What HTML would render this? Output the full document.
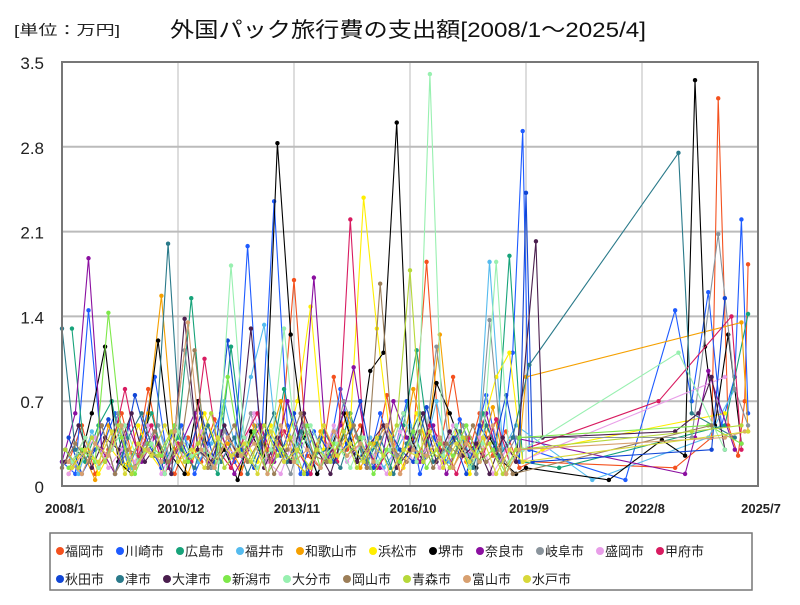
<!DOCTYPE html>
<html><head><meta charset="utf-8"><style>
body{margin:0;background:#fff;width:800px;height:600px;overflow:hidden;font-family:"Liberation Sans","Noto Sans CJK JP",sans-serif}
</style></head><body>
<svg id="chart" width="800" height="600" xmlns="http://www.w3.org/2000/svg">
<text x="14" y="35" font-size="14" fill="#222" textLength="106" lengthAdjust="spacingAndGlyphs" font-family="Liberation Sans, Noto Sans CJK JP, sans-serif">[単位：万円]</text>
<text x="170" y="37" font-size="21" fill="#111" textLength="476" lengthAdjust="spacingAndGlyphs" font-family="Liberation Sans, Noto Sans CJK JP, sans-serif">外国パック旅行費の支出額[2008/1～2025/4]</text>
<g id="grid"></g>
<g id="series"></g>
<rect x="62" y="62" width="696" height="424" fill="none" stroke="#777" stroke-width="2"/>
<g id="axes"></g>
<rect x="50" y="533" width="702" height="57" fill="#fff" stroke="#777" stroke-width="1.5"/>
<g id="legend"></g>
</svg>
<script>
const yTicks=[0,0.7,1.4,2.1,2.8,3.5];
const yTickLabels=["0","0.7","1.4","2.1","2.8","3.5"];
const xTickMonths=[0,35,70,105,140,175,210];
const xTickLabels=["2008/1","2010/12","2013/11","2016/10","2019/9","2022/8","2025/7"];
const cityNames=["福岡市","川崎市","広島市","福井市","和歌山市","浜松市","堺市","奈良市","岐阜市","盛岡市","甲府市","秋田市","津市","大津市","新潟市","大分市","岡山市","青森市","富山市","水戸市"];
const cityColors=["#f4511e","#1e5bff","#17a37a","#55bbee","#f5a000","#ffee00","#000000","#8b0fa0","#8a949c","#e89ee8","#d81b60","#1146d6","#2a7a8a","#4a1e4e","#7ee84a","#98f0b0","#9c7e58","#b6d83a","#d8a070","#d8d83a"];
const startMonth=[2,0,3,1,2,3,1,0,1,2,3,2,0,1,2,3,0,1,2,3];
const denseValues=[
[0.2,0.5,0.1,0.3,0.6,0.15,0.8,0.25,0.1,0.4,0.2,0.55,0.3,0.1,0.45,0.2,0.35,1.7,0.25,0.15,0.9,0.3,0.5,0.2,0.75,0.1,0.4,1.85,0.3,0.9,0.2,0.6,0.25,0.45,0.15],
[0.2,0.1,1.45,0.3,0.6,0.15,0.4,0.9,0.2,0.5,0.1,0.35,0.6,0.2,1.98,0.3,2.35,0.5,0.1,0.45,0.2,0.8,0.3,0.15,0.6,0.25,0.7,0.1,0.4,0.2,0.55,0.3,0.75,0.2,1.1],
[1.3,0.2,0.5,0.7,0.15,0.35,0.6,0.2,0.4,1.55,0.3,0.1,1.15,0.25,0.5,0.2,0.8,0.35,0.1,0.45,0.25,0.6,0.2,0.35,0.15,0.5,1.12,0.3,0.2,0.4,0.15,0.6,0.3,1.9,0.2],
[0.3,0.1,0.45,0.2,0.6,0.15,0.3,0.5,0.1,0.4,0.2,0.35,0.7,0.25,0.9,1.33,0.3,0.2,0.5,0.1,0.35,0.6,0.2,0.4,0.15,0.3,0.5,0.25,0.7,0.2,0.4,0.1,1.85,0.3,0.5],
[0.1,0.3,0.05,0.5,0.2,0.15,0.6,1.57,0.3,0.1,0.4,0.2,0.35,0.15,0.5,0.3,0.7,0.2,0.1,0.45,0.25,0.6,0.15,0.35,0.5,0.2,0.8,0.3,1.25,0.15,0.4,0.2,0.65,0.1,0.3],
[0.2,0.4,0.1,0.3,0.15,0.5,0.25,0.1,0.35,0.2,0.6,0.3,0.15,0.4,0.2,0.5,0.25,0.7,1.48,0.3,0.2,0.5,2.38,1.3,0.4,0.15,0.6,0.3,0.2,0.45,0.1,0.5,0.9,1.1,0.2],
[0.3,0.15,0.6,1.15,0.2,0.1,0.35,1.2,0.25,0.1,0.7,0.15,0.3,0.05,0.45,0.2,2.83,1.25,0.4,0.1,0.3,0.6,0.2,0.95,1.1,3.0,0.4,0.2,0.85,0.6,0.3,0.15,0.4,0.2,0.1],
[0.2,0.6,1.88,0.3,0.1,0.5,0.2,0.4,0.15,0.35,0.6,0.2,0.45,0.1,0.3,0.5,0.2,0.7,0.35,1.72,0.2,0.5,0.98,0.3,0.15,0.7,0.4,0.2,0.5,0.1,0.35,0.25,0.6,0.2,0.4],
[0.3,0.15,0.4,0.2,0.6,0.1,0.35,0.5,0.2,1.12,0.3,0.15,0.45,0.25,0.6,0.2,0.35,0.1,0.5,0.3,0.2,0.7,0.4,0.15,0.5,0.25,0.35,0.2,1.15,0.3,0.5,0.1,1.37,0.2,0.4],
[0.1,0.25,0.4,0.15,0.3,0.2,0.5,0.1,0.35,0.2,0.45,0.15,0.3,0.25,0.6,0.2,0.1,0.4,0.3,0.15,0.5,0.2,0.35,0.25,0.1,0.45,0.2,0.3,0.15,0.5,0.25,0.4,0.1,0.3,0.2],
[0.2,0.4,0.15,0.3,0.8,0.25,0.5,0.1,0.35,0.2,1.05,0.3,0.15,0.4,0.6,0.2,0.45,0.3,0.1,0.5,0.2,2.2,0.4,0.15,0.3,0.6,0.2,0.5,0.35,0.1,0.4,0.25,0.55,0.2,0.3],
[0.4,0.1,0.3,0.55,0.2,0.75,0.35,0.15,0.5,0.25,0.6,0.2,1.2,0.3,0.15,0.45,0.25,0.6,0.1,0.4,0.2,0.35,0.7,0.15,0.5,0.3,0.2,0.65,0.25,0.4,0.1,0.5,0.3,0.75,0.2],
[1.3,0.3,0.2,0.5,0.1,0.4,0.6,0.25,2.0,0.3,0.15,0.5,0.2,0.4,0.1,0.35,0.6,0.2,0.45,0.25,0.3,0.15,0.5,0.2,0.4,0.1,0.35,0.6,0.2,0.3,0.45,0.15,0.5,0.25,0.4],
[0.2,0.5,0.15,0.4,0.3,0.6,0.2,0.35,0.1,1.38,0.3,0.2,0.5,0.25,1.3,0.15,0.4,0.2,0.6,0.3,0.1,0.45,0.2,0.35,0.5,0.15,0.3,0.6,0.2,0.45,0.25,0.35,0.1,0.4,0.2],
[0.15,0.3,0.2,1.43,0.4,0.1,0.35,0.25,0.5,0.2,0.3,0.15,0.9,0.25,0.45,0.1,0.3,0.2,0.5,0.15,0.35,0.25,0.4,0.1,0.3,0.2,0.45,0.15,0.35,0.25,0.5,0.2,0.3,0.1,0.4],
[0.2,0.4,0.15,0.3,0.5,0.2,0.35,0.1,0.45,0.25,0.3,0.2,1.82,0.4,0.15,0.3,1.3,0.2,0.5,0.25,0.35,0.15,0.4,0.2,0.3,0.6,0.2,3.4,0.25,0.5,0.15,0.35,1.85,0.2,0.3],
[0.15,0.35,0.2,0.5,0.1,0.3,0.25,0.45,0.2,0.35,1.12,0.15,0.3,0.5,0.2,0.4,0.1,0.3,0.6,0.25,0.2,0.35,0.5,0.15,1.67,0.3,0.2,0.45,0.15,0.35,0.25,0.5,0.2,0.3,0.1],
[0.3,0.15,0.4,0.2,0.5,0.1,0.3,0.25,0.45,0.2,0.35,0.6,0.15,0.3,0.2,0.5,0.25,0.4,0.1,0.3,0.2,0.45,0.15,0.35,0.25,0.5,1.78,0.2,0.3,0.15,0.4,0.25,0.35,0.1,0.3],
[0.2,0.1,0.35,0.25,0.5,0.15,0.3,0.2,0.45,1.35,0.3,0.15,0.4,0.25,0.35,0.1,0.5,0.2,0.3,0.15,0.45,0.25,0.35,0.2,0.5,0.1,0.3,0.25,0.4,0.15,0.35,0.2,0.5,0.1,0.3],
[0.15,0.3,0.2,0.45,0.1,0.35,0.25,0.5,0.2,0.3,0.15,0.4,0.25,0.35,0.1,0.45,0.2,0.3,0.15,0.5,0.25,0.35,0.2,0.4,0.1,0.3,0.25,0.45,0.15,0.35,0.2,0.4,0.1,0.3,0.2]
];
const lateMonths=[
[142,185,196,198,201,204,206,207],
[139,141,170,185,190,195,199,203,205,207],
[150,200,207],
[160,195,203],
[140,205,207],
[145,200],
[140,165,181,188,191,194,197,201,205],
[188,191,195,203],
[190,198,203,207],
[200],
[180,202,205],
[140,142,196,200],
[141,186,190,203],
[143,145,185,192,196,200],
[195,205],
[186,200],
[196],
[190,205],
[200,206],
[207]
];
const lateValues=[
[0.2,0.15,0.4,3.2,0.5,0.25,0.7,1.83],
[2.93,0.3,0.05,1.45,0.7,1.6,0.5,0.9,2.2,0.6],
[0.15,0.5,1.42],
[0.05,0.4,0.8],
[0.9,1.35,0.45],
[0.3,0.6],
[0.15,0.05,0.38,0.25,3.35,1.15,0.5,1.25,0.35],
[0.1,0.4,0.95,0.3],
[0.4,2.08,0.8,0.5],
[0.9],
[0.7,1.4,0.3],
[2.42,0.2,0.3,1.55],
[1.0,2.75,0.6,0.4],
[2.02,0.4,0.45,0.6,0.9,0.3],
[0.5,0.35],
[1.1,0.3],
[0.5],
[0.45,0.5],
[0.4,0.45],
[0.45]
];
const NS="http://www.w3.org/2000/svg";
const X0=62,X1=758,Y0=486,Y1=62,M=210,VMAX=3.5;
function xs(m){return X0+(X1-X0)*m/M;}
function ys(v){return Y0-(Y0-Y1)*v/VMAX;}
function mk(tag,attrs,parent){const e=document.createElementNS(NS,tag);for(const k in attrs)e.setAttribute(k,attrs[k]);parent.appendChild(e);return e;}
const grid=document.getElementById('grid'),axes=document.getElementById('axes'),ser=document.getElementById('series'),leg=document.getElementById('legend');
yTicks.forEach((t,i)=>{
  if(t>0&&t<VMAX){const l=mk('line',{x1:X0,x2:X1,y1:ys(t),y2:ys(t),stroke:'#bbb','stroke-width':2},grid);
  
  }
  const tx=mk('text',{x:44,y:ys(t)+7,'text-anchor':'end','font-size':17,fill:'#222'},axes);
  tx.textContent=yTickLabels[i];
  
  
});
xTickMonths.forEach((m,i)=>{
  if(m>0&&m<M){const l=mk('line',{x1:xs(m),x2:xs(m),y1:Y1,y2:Y0,stroke:'#bbb','stroke-width':1},grid);
  
  }
  const tx=mk('text',{x:xs(m)+3,y:513,'text-anchor':'middle','font-size':13,'font-weight':'bold',fill:'#222'},axes);
  tx.textContent=xTickLabels[i];
  
  
});
cityNames.forEach((name,c)=>{
  const pts=[];
  denseValues[c].forEach((v,k)=>pts.push([startMonth[c]+4*k,v]));
  lateMonths[c].forEach((m,k)=>pts.push([m,lateValues[c][k]]));
  const g=mk('g',{},ser);
  
  
  const p=mk('polyline',{points:pts.map(q=>xs(q[0]).toFixed(1)+','+ys(q[1]).toFixed(1)).join(' '),fill:'none',stroke:cityColors[c],'stroke-width':1.1},g);
  
  
  pts.forEach(q=>{const d=mk('circle',{cx:xs(q[0]),cy:ys(q[1]),r:2.2,fill:cityColors[c]},g);
    
    });
});
const rowStarts=[0,11];
cityNames.forEach((name,c)=>{
  const row=c<11?0:1;
  let x=56;
  for(let j=rowStarts[row];j<c;j++){x+=cityNames[j].length*13+21;}
  const y=row===0?556:584;
  const g=mk('g',{},leg);
  
  
  mk('circle',{cx:x+4,cy:y-5,r:4,fill:cityColors[c]},g);
  const t=mk('text',{x:x+9,y:y,'font-size':13,fill:'#222'},g);
  t.textContent=name;
});
</script>
</body></html>
